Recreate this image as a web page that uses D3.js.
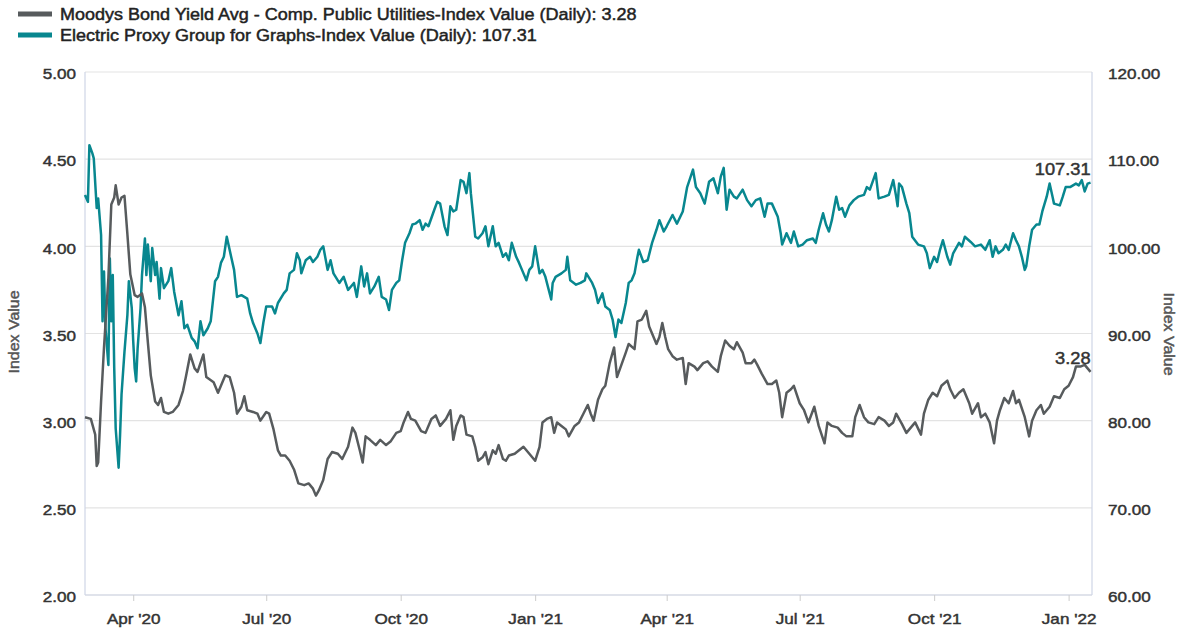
<!DOCTYPE html>
<html><head><meta charset="utf-8">
<script src="https://cdn.jsdelivr.net/npm/d3@7"></script>
<style>body{margin:0;background:#fff;} text{font-family:"Liberation Sans",Arial,sans-serif;}</style>
</head><body><svg id="c" width="1189" height="632"></svg>
<script>
const moodys = [
["2020-02-28",3.02],["2020-03-03",3.01],["2020-03-06",2.92],["2020-03-07",2.74],["2020-03-08",2.76],["2020-03-10",3.11],
["2020-03-12",3.42],["2020-03-15",3.82],["2020-03-17",4.24],["2020-03-19",4.28],["2020-03-20",4.35],["2020-03-22",4.24],
["2020-03-24",4.28],["2020-03-26",4.29],["2020-03-28",4.07],["2020-03-30",3.84],["2020-03-31",3.80],["2020-04-02",3.72],
["2020-04-04",3.71],["2020-04-07",3.73],["2020-04-09",3.65],["2020-04-11",3.45],["2020-04-13",3.26],["2020-04-16",3.11],
["2020-04-18",3.09],["2020-04-20",3.13],["2020-04-22",3.05],["2020-04-25",3.04],["2020-04-28",3.05],["2020-05-02",3.09],
["2020-05-05",3.17],["2020-05-07",3.25],["2020-05-10",3.38],["2020-05-13",3.30],["2020-05-15",3.28],["2020-05-19",3.38],
["2020-05-21",3.25],["2020-05-26",3.22],["2020-05-29",3.16],["2020-05-31",3.20],["2020-06-03",3.26],["2020-06-06",3.25],
["2020-06-09",3.16],["2020-06-11",3.04],["2020-06-14",3.08],["2020-06-16",3.14],["2020-06-18",3.06],["2020-06-22",3.05],
["2020-06-25",3.04],["2020-06-27",3.00],["2020-07-01",3.05],["2020-07-03",3.04],["2020-07-06",2.95],["2020-07-09",2.83],
["2020-07-11",2.80],["2020-07-14",2.80],["2020-07-17",2.77],["2020-07-20",2.72],["2020-07-23",2.64],["2020-07-27",2.63],
["2020-07-30",2.64],["2020-08-02",2.61],["2020-08-04",2.57],["2020-08-06",2.60],["2020-08-09",2.66],["2020-08-12",2.78],
["2020-08-15",2.82],["2020-08-19",2.81],["2020-08-22",2.78],["2020-08-26",2.85],["2020-08-29",2.96],["2020-08-31",2.93],
["2020-09-03",2.83],["2020-09-05",2.76],["2020-09-07",2.91],["2020-09-10",2.89],["2020-09-14",2.86],["2020-09-17",2.89],
["2020-09-21",2.86],["2020-09-24",2.88],["2020-09-28",2.93],["2020-10-01",2.94],["2020-10-03",2.99],["2020-10-06",3.05],
["2020-10-08",3.01],["2020-10-11",3.00],["2020-10-15",2.94],["2020-10-18",2.93],["2020-10-22",3.01],["2020-10-25",3.03],
["2020-10-28",2.97],["2020-11-01",3.01],["2020-11-04",3.06],["2020-11-06",2.89],["2020-11-08",2.97],["2020-11-11",3.03],
["2020-11-13",3.02],["2020-11-15",2.92],["2020-11-19",2.91],["2020-11-21",2.85],["2020-11-23",2.77],["2020-11-26",2.79],
["2020-11-28",2.82],["2020-11-30",2.75],["2020-12-03",2.83],["2020-12-05",2.81],["2020-12-07",2.86],["2020-12-10",2.78],
["2020-12-12",2.77],["2020-12-14",2.80],["2020-12-18",2.81],["2020-12-21",2.83],["2020-12-24",2.85],["2020-12-28",2.81],
["2021-01-01",2.77],["2021-01-04",2.85],["2021-01-06",2.99],["2021-01-09",3.01],["2021-01-12",3.02],["2021-01-14",2.93],
["2021-01-16",2.99],["2021-01-19",2.97],["2021-01-22",2.95],["2021-01-24",2.91],["2021-01-28",2.97],["2021-01-31",2.99],
["2021-02-03",3.04],["2021-02-06",3.09],["2021-02-08",3.04],["2021-02-10",3.00],["2021-02-13",3.12],["2021-02-16",3.18],
["2021-02-18",3.20],["2021-02-21",3.33],["2021-02-24",3.42],["2021-02-26",3.25],["2021-03-01",3.32],["2021-03-04",3.39],
["2021-03-06",3.44],["2021-03-10",3.41],["2021-03-12",3.57],["2021-03-15",3.58],["2021-03-18",3.63],["2021-03-20",3.54],
["2021-03-22",3.50],["2021-03-25",3.44],["2021-03-27",3.48],["2021-03-29",3.56],["2021-03-31",3.48],["2021-04-02",3.41],
["2021-04-05",3.37],["2021-04-08",3.35],["2021-04-12",3.36],["2021-04-14",3.21],["2021-04-16",3.33],["2021-04-20",3.31],
["2021-04-22",3.29],["2021-04-26",3.33],["2021-04-29",3.34],["2021-05-02",3.31],["2021-05-06",3.28],["2021-05-08",3.37],
["2021-05-11",3.46],["2021-05-14",3.43],["2021-05-17",3.41],["2021-05-19",3.45],["2021-05-23",3.39],["2021-05-25",3.33],
["2021-05-29",3.33],["2021-05-31",3.35],["2021-06-02",3.32],["2021-06-05",3.27],["2021-06-09",3.21],["2021-06-12",3.21],
["2021-06-15",3.23],["2021-06-17",3.16],["2021-06-19",3.02],["2021-06-22",3.16],["2021-06-25",3.18],["2021-06-27",3.20],
["2021-07-01",3.10],["2021-07-04",3.06],["2021-07-07",2.99],["2021-07-11",3.08],["2021-07-14",2.97],["2021-07-18",2.87],
["2021-07-20",2.99],["2021-07-23",2.97],["2021-07-27",2.96],["2021-07-30",2.93],["2021-08-02",2.91],["2021-08-06",2.91],
["2021-08-08",3.02],["2021-08-11",3.09],["2021-08-14",3.02],["2021-08-17",2.99],["2021-08-21",2.98],["2021-08-24",3.02],
["2021-08-28",3.00],["2021-08-31",2.97],["2021-09-03",2.99],["2021-09-05",3.04],["2021-09-09",2.98],["2021-09-12",2.93],
["2021-09-16",2.97],["2021-09-18",2.99],["2021-09-22",2.92],["2021-09-24",3.04],["2021-09-27",3.12],["2021-09-30",3.16],
["2021-10-03",3.14],["2021-10-06",3.20],["2021-10-10",3.23],["2021-10-12",3.18],["2021-10-15",3.13],["2021-10-18",3.16],
["2021-10-21",3.18],["2021-10-25",3.10],["2021-10-27",3.04],["2021-10-31",3.10],["2021-11-02",3.02],["2021-11-05",3.04],
["2021-11-08",2.99],["2021-11-11",2.87],["2021-11-13",3.00],["2021-11-15",3.06],["2021-11-18",3.13],["2021-11-21",3.10],
["2021-11-24",3.17],["2021-11-26",3.10],["2021-11-28",3.12],["2021-12-02",3.02],["2021-12-05",2.91],["2021-12-07",3.00],
["2021-12-10",3.06],["2021-12-13",3.09],["2021-12-15",3.04],["2021-12-19",3.08],["2021-12-22",3.14],["2021-12-26",3.13],
["2021-12-29",3.18],["2022-01-01",3.20],["2022-01-04",3.25],["2022-01-06",3.31],["2022-01-09",3.31],["2022-01-12",3.32],
["2022-01-14",3.30],["2022-01-16",3.28]
];
const electric = [
["2020-02-28",105.9],["2020-03-01",105.1],["2020-03-02",111.6],["2020-03-04",110.7],["2020-03-05",110.1],["2020-03-07",104.4],
["2020-03-08",105.5],["2020-03-10",101.3],["2020-03-11",91.4],["2020-03-12",97.1],["2020-03-13",90.6],["2020-03-15",86.4],
["2020-03-16",98.6],["2020-03-17",91.4],["2020-03-18",96.7],["2020-03-19",86.0],["2020-03-20",79.1],["2020-03-22",74.6],
["2020-03-23",78.4],["2020-03-24",83.0],["2020-03-26",87.9],["2020-03-28",92.1],["2020-03-29",96.0],["2020-03-31",92.9],
["2020-04-01",89.1],["2020-04-02",86.0],["2020-04-03",84.5],["2020-04-04",88.3],["2020-04-06",92.9],["2020-04-07",96.7],
["2020-04-09",100.9],["2020-04-10",96.7],["2020-04-11",100.2],["2020-04-13",96.0],["2020-04-14",99.8],["2020-04-16",96.7],
["2020-04-17",98.2],["2020-04-19",94.0],["2020-04-20",97.5],["2020-04-22",95.2],["2020-04-25",96.0],["2020-04-27",97.5],
["2020-04-29",94.8],["2020-05-02",92.1],["2020-05-04",93.7],["2020-05-06",90.6],["2020-05-08",91.0],["2020-05-11",89.5],
["2020-05-13",89.1],["2020-05-15",88.3],["2020-05-17",91.4],["2020-05-19",89.8],["2020-05-22",90.6],["2020-05-24",91.4],
["2020-05-27",96.0],["2020-05-29",96.5],["2020-05-31",98.1],["2020-06-02",98.8],["2020-06-04",101.1],["2020-06-07",98.8],
["2020-06-09",97.3],["2020-06-11",94.2],["2020-06-14",94.4],["2020-06-18",94.0],["2020-06-20",92.3],["2020-06-22",91.2],
["2020-06-25",90.0],["2020-06-27",88.9],["2020-06-29",91.2],["2020-07-01",93.1],["2020-07-05",93.1],["2020-07-07",92.3],
["2020-07-09",93.5],["2020-07-13",94.6],["2020-07-15",95.0],["2020-07-17",96.9],["2020-07-20",97.3],["2020-07-22",99.2],
["2020-07-24",98.4],["2020-07-25",96.9],["2020-07-28",98.4],["2020-07-31",98.8],["2020-08-02",98.2],["2020-08-05",98.8],
["2020-08-07",99.6],["2020-08-09",100.0],["2020-08-12",97.3],["2020-08-14",98.4],["2020-08-16",96.9],["2020-08-20",95.8],
["2020-08-23",96.5],["2020-08-26",95.0],["2020-08-28",95.4],["2020-08-30",95.8],["2020-09-01",94.2],["2020-09-04",97.7],
["2020-09-06",95.4],["2020-09-08",96.9],["2020-09-10",94.6],["2020-09-13",95.4],["2020-09-16",96.5],["2020-09-18",94.2],
["2020-09-21",93.9],["2020-09-23",92.7],["2020-09-25",95.0],["2020-09-28",95.8],["2020-09-30",96.1],["2020-10-02",98.4],
["2020-10-04",100.4],["2020-10-07",101.5],["2020-10-09",102.5],["2020-10-11",102.6],["2020-10-14",103.0],["2020-10-16",101.9],
["2020-10-18",102.6],["2020-10-20",102.3],["2020-10-24",104.2],["2020-10-26",105.1],["2020-10-28",104.9],["2020-10-31",102.3],
["2020-11-02",101.3],["2020-11-04",104.6],["2020-11-06",104.0],["2020-11-08",104.2],["2020-11-11",107.6],["2020-11-13",107.4],
["2020-11-15",106.1],["2020-11-17",108.4],["2020-11-18",106.1],["2020-11-21",101.1],["2020-11-23",100.9],["2020-11-26",101.5],
["2020-11-28",102.3],["2020-11-30",100.0],["2020-12-03",102.3],["2020-12-05",100.0],["2020-12-07",100.4],["2020-12-10",98.8],
["2020-12-12",99.2],["2020-12-14",98.4],["2020-12-16",100.4],["2020-12-19",98.8],["2020-12-21",98.1],["2020-12-23",97.3],
["2020-12-26",96.1],["2020-12-28",97.3],["2020-12-30",97.7],["2021-01-01",100.0],["2021-01-04",96.9],["2021-01-06",97.3],
["2021-01-08",96.5],["2021-01-12",93.9],["2021-01-13",95.8],["2021-01-15",96.5],["2021-01-19",96.9],["2021-01-22",97.3],
["2021-01-23",98.8],["2021-01-25",96.1],["2021-01-29",95.6],["2021-02-01",95.8],["2021-02-04",96.1],["2021-02-05",96.9],
["2021-02-09",95.8],["2021-02-11",95.0],["2021-02-13",93.5],["2021-02-16",94.6],["2021-02-18",93.1],["2021-02-21",92.7],
["2021-02-23",91.6],["2021-02-25",89.6],["2021-02-27",91.6],["2021-03-01",91.2],["2021-03-04",93.5],["2021-03-06",95.8],
["2021-03-08",96.1],["2021-03-10",96.9],["2021-03-12",98.8],["2021-03-13",99.6],["2021-03-16",98.2],["2021-03-19",98.4],
["2021-03-22",100.4],["2021-03-25",101.9],["2021-03-27",103.0],["2021-03-30",101.7],["2021-04-01",102.3],["2021-04-05",103.6],
["2021-04-08",102.6],["2021-04-12",104.0],["2021-04-15",106.8],["2021-04-19",108.8],["2021-04-21",106.8],["2021-04-24",106.1],
["2021-04-27",104.9],["2021-04-30",107.4],["2021-05-03",107.8],["2021-05-06",106.1],["2021-05-08",108.0],["2021-05-10",109.0],
["2021-05-12",104.2],["2021-05-14",106.5],["2021-05-17",105.7],["2021-05-19",105.5],["2021-05-23",106.5],["2021-05-26",105.3],
["2021-05-29",104.6],["2021-06-01",105.3],["2021-06-04",105.5],["2021-06-07",103.4],["2021-06-09",104.9],["2021-06-12",104.9],
["2021-06-16",103.4],["2021-06-18",101.5],["2021-06-19",100.2],["2021-06-22",101.5],["2021-06-25",100.4],["2021-06-27",101.7],
["2021-06-30",100.0],["2021-07-03",100.2],["2021-07-06",100.7],["2021-07-10",100.9],["2021-07-12",100.4],["2021-07-14",101.9],
["2021-07-17",103.8],["2021-07-19",102.5],["2021-07-21",101.7],["2021-07-23",103.0],["2021-07-26",105.7],["2021-07-28",104.2],
["2021-07-30",104.4],["2021-08-01",103.4],["2021-08-04",104.7],["2021-08-07",105.3],["2021-08-10",105.7],["2021-08-14",105.9],
["2021-08-16",106.8],["2021-08-18",106.5],["2021-08-22",108.4],["2021-08-24",105.5],["2021-08-28",105.7],["2021-08-31",105.9],
["2021-09-03",107.6],["2021-09-05",105.7],["2021-09-06",104.6],["2021-09-07",107.2],["2021-09-09",106.8],["2021-09-12",104.9],
["2021-09-14",103.8],["2021-09-16",101.1],["2021-09-20",100.2],["2021-09-24",100.0],["2021-09-26",99.2],["2021-09-28",97.5],
["2021-10-01",98.8],["2021-10-03",98.2],["2021-10-05",99.6],["2021-10-07",100.7],["2021-10-10",98.8],["2021-10-12",97.9],
["2021-10-14",99.2],["2021-10-18",100.4],["2021-10-20",100.0],["2021-10-22",101.1],["2021-10-26",100.5],["2021-10-29",100.0],
["2021-11-02",100.2],["2021-11-05",99.6],["2021-11-08",100.7],["2021-11-10",98.8],["2021-11-12",100.0],["2021-11-14",99.2],
["2021-11-17",99.6],["2021-11-19",100.2],["2021-11-21",99.6],["2021-11-24",101.5],["2021-11-26",100.7],["2021-11-28",100.0],
["2021-11-30",98.8],["2021-12-02",97.3],["2021-12-03",97.7],["2021-12-05",100.0],["2021-12-07",101.9],["2021-12-10",102.5],
["2021-12-12",102.5],["2021-12-14",104.0],["2021-12-17",105.7],["2021-12-19",107.2],["2021-12-21",105.7],["2021-12-22",104.9],
["2021-12-26",104.7],["2021-12-28",105.7],["2021-12-30",106.8],["2022-01-02",106.8],["2022-01-06",107.2],["2022-01-08",107.0],
["2022-01-10",107.6],["2022-01-12",106.3],["2022-01-14",107.2],["2022-01-16",107.31]
];
const leftTicks = [2.0, 2.5, 3.0, 3.5, 4.0, 4.5, 5.0];
const rightTicks = [60, 70, 80, 90, 100, 110, 120];
const xTickDates = ["2020-04-01","2020-07-01","2020-10-01","2021-01-01","2021-04-01","2021-07-01","2021-10-01","2022-01-01"];
const xDomain = ["2020-02-28","2022-01-17"];
const leftDomain = [2, 5];
const rightDomain = [60, 120];
const seriesNames = ["Moodys Bond Yield Avg - Comp. Public Utilities-Index Value (Daily)", "Electric Proxy Group for Graphs-Index Value (Daily)"];
const axisTitle = "Index Value";

const GREY = "#575b5d", TEAL = "#08878f", TXT = "#333", STRETCH = 1.14, LEG_STRETCH = 1.125;
const parse = d3.timeParse("%Y-%m-%d");
const P = {l: 85, r: 1092, t: 72, b: 595};
const svg = d3.select("#c");
const x = d3.scaleTime().domain(xDomain.map(parse)).range([P.l, P.r]);
const yL = d3.scaleLinear().domain(leftDomain).range([P.b, P.t]);
const yR = d3.scaleLinear().domain(rightDomain).range([P.b, P.t]);

// grid
svg.append("g").selectAll("line").data(leftTicks).join("line")
  .attr("x1", P.l).attr("x2", P.r).attr("y1", d => yL(d)).attr("y2", d => yL(d))
  .attr("stroke", "#e3e3e3").attr("stroke-width", 1.2);
// frame
svg.append("line").attr("x1", P.l).attr("x2", P.l).attr("y1", P.t).attr("y2", P.b).attr("stroke", "#cfd6e6").attr("stroke-width", 1.2);
svg.append("line").attr("x1", P.r).attr("x2", P.r).attr("y1", P.t).attr("y2", P.b).attr("stroke", "#cfd6e6").attr("stroke-width", 1.2);
svg.append("line").attr("x1", P.l).attr("x2", P.r).attr("y1", P.b).attr("y2", P.b).attr("stroke", "#cfd6e6").attr("stroke-width", 1.2);

// axes
const axL = d3.axisLeft(yL).tickValues(leftTicks).tickFormat(d3.format(".2f")).tickSize(0).tickPadding(9);
const gL = svg.append("g").attr("transform", `translate(${P.l},0)`).call(axL);
const axR = d3.axisRight(yR).tickValues(rightTicks).tickFormat(d3.format(".2f")).tickSize(0).tickPadding(16);
const gR = svg.append("g").attr("transform", `translate(${P.r},0)`).call(axR);
const axX = d3.axisBottom(x).tickValues(xTickDates.map(parse)).tickFormat(d3.timeFormat("%b '%y")).tickSize(6).tickPadding(12);
const gX = svg.append("g").attr("transform", `translate(0,${P.b})`).call(axX);
[gL, gR, gX].forEach(g => {
  g.select(".domain").remove();
  g.selectAll("text").attr("font-size", 15).attr("fill", TXT).attr("font-family", '"Liberation Sans",Arial,sans-serif');
  g.selectAll(".tick line").attr("stroke", "#ccc");
});
gL.selectAll("text").attr("dy", "0.45em");
gR.selectAll("text").attr("dy", "0.45em");

// axis titles
svg.append("text").attr("transform", `translate(19,332) rotate(-90)`)
  .attr("text-anchor", "middle").attr("font-size", 14).attr("fill", "#555").text(axisTitle);
svg.append("text").attr("transform", `translate(1164,334) rotate(90)`)
  .attr("text-anchor", "middle").attr("font-size", 14).attr("fill", "#555").text(axisTitle);

// lines
const lineL = d3.line().x(d => x(parse(d[0]))).y(d => yL(d[1]));
const lineR = d3.line().x(d => x(parse(d[0]))).y(d => yR(d[1]));
svg.append("path").datum(electric).attr("d", lineR).attr("fill", "none").attr("stroke", TEAL).attr("stroke-width", 2.5).attr("stroke-linejoin", "round");
svg.append("path").datum(moodys).attr("d", lineL).attr("fill", "none").attr("stroke", GREY).attr("stroke-width", 2.5).attr("stroke-linejoin", "round");

// end labels
const lastM = moodys[moodys.length - 1], lastE = electric[electric.length - 1];
svg.append("text").attr("x", x(parse(lastE[0]))).attr("y", yR(lastE[1]) - 8).attr("text-anchor", "end")
  .attr("font-size", 16).attr("fill", TXT).text(d3.format(".2f")(lastE[1]));
svg.append("text").attr("x", x(parse(lastM[0]))).attr("y", yL(lastM[1]) - 8).attr("text-anchor", "end")
  .attr("font-size", 16).attr("fill", TXT).text(d3.format(".2f")(lastM[1]));

// widen glyphs to match the reference's wide sans face
svg.selectAll("text").each(function () {
  const w = this.getComputedTextLength();
  this.setAttribute("textLength", w * STRETCH);
  this.setAttribute("lengthAdjust", "spacingAndGlyphs");
});

// legend
const leg = [[seriesNames[0], lastM[1], GREY], [seriesNames[1], lastE[1], TEAL]];
leg.forEach((l, i) => {
  svg.append("rect").attr("x", 18).attr("y", 11.5 + i * 21).attr("width", 34).attr("height", 5).attr("fill", l[2]);
  const t = svg.append("text").attr("x", 60).attr("y", 19.5 + i * 21).attr("font-size", 16).attr("fill", "#222")
    .text(`${l[0]}: ${d3.format(".2f")(l[1])}`);
  const w = t.node().getComputedTextLength();
  t.attr("textLength", w * LEG_STRETCH).attr("lengthAdjust", "spacingAndGlyphs");
});

// slightly heavier glyphs, like the reference rendering
svg.selectAll("text").attr("stroke", function () { return this.getAttribute("fill"); })
  .attr("stroke-width", 0.45);
</script></body></html>
